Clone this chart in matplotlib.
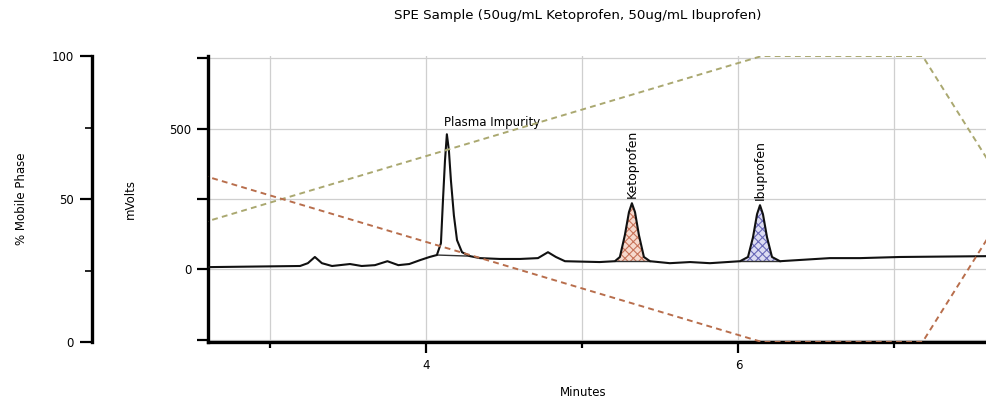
import matplotlib
matplotlib.use("Agg")
import matplotlib.pyplot as plt
import numpy as np

plt.rcParams['font.family'] = ['DejaVu Sans']
plt.rcParams['hatch.linewidth'] = 0.8

# ---- data ----
title = "SPE Sample (50ug/mL Ketoprofen, 50ug/mL Ibuprofen)"

trace_t = [2.60, 3.19, 3.24, 3.285, 3.33, 3.395, 3.51, 3.585, 3.67, 3.75, 3.82, 3.89,
           3.96, 4.02, 4.067, 4.093, 4.106, 4.119, 4.131, 4.144, 4.157, 4.176, 4.196,
           4.228, 4.279, 4.343, 4.47, 4.60, 4.715, 4.779, 4.83, 4.888, 5.11, 5.208,
           5.24, 5.272, 5.298, 5.317, 5.337, 5.362, 5.394, 5.433, 5.56, 5.69, 5.817,
           6.01, 6.061, 6.093, 6.119, 6.138, 6.157, 6.183, 6.215, 6.266, 6.586, 6.78,
           7.035, 7.60]
trace_mv = [8, 12, 22, 44, 22, 12, 19, 12, 15, 29, 15, 19,
            33, 44, 51, 93, 245, 387, 480, 423, 316, 192, 104,
            61, 47, 40, 37, 37, 40, 61, 44, 29, 26, 29,
            44, 122, 203, 235, 203, 122, 44, 29, 22, 26, 22,
            29, 44, 114, 196, 228, 196, 114, 44, 29, 40, 40,
            44, 47]

grad_t = [0.0, 6.15, 7.18, 8.33]
grad_b = [0, 100, 100, 0]          # % B (rising series)
grad_a = [100, 0, 0, 100]          # % A (falling series)

peak_names = ["Plasma Impurity", "Ketoprofen", "Ibuprofen"]
peak_t = [4.131, 5.317, 6.138]
peak_mv = [480, 235, 228]
peak_start = [4.067, 5.208, 6.01]
peak_end = [4.279, 5.433, 6.266]

# ---- figure ----
W, H = 987, 398
FS = 8.5
fig = plt.figure(figsize=(W / 100, H / 100), dpi=100)
x0, x1 = 208, 987
ytop, ybot = 56, 342
ax = fig.add_axes([x0 / W, (H - ybot) / H, (x1 - x0) / W, (ybot - ytop) / H])

t = np.array(trace_t)
mv = np.array(trace_mv)

ax.set_xlim(2.60, 7.593)
ax.set_ylim(-258, 758)

ylabs = ["", "0", "", "500", ""]
xlabs = ["", "4", "", "6", ""]
ax.set_yticks([-250, 0, 250, 500, 750])
ax.set_yticklabels(ylabs)
ax.set_xticks([3, 4, 5, 6, 7])
ax.set_xticklabels(xlabs)
ax.grid(True, color="#cfcfcf", lw=0.9)
ax.set_axisbelow(True)

for s in ["top", "right"]:
    ax.spines[s].set_visible(False)
for s in ["left", "bottom"]:
    ax.spines[s].set_linewidth(2.4)

ax.tick_params(axis="both", width=1.6, length=8, labelsize=FS, color="black", pad=4)
for tk, lab in zip(ax.yaxis.get_major_ticks(), ylabs):
    if lab == "":
        tk.tick1line.set_visible(False)
for tk, lab in zip(ax.xaxis.get_major_ticks(), xlabs):
    if lab == "":
        tk.tick1line.set_markersize(4)

# filled peaks
fills = [None, ("#f6d9cd", "#c8745a"), ("#dcdcf2", "#6a6ab8")]
for i, name in enumerate(peak_names):
    m = (t >= peak_start[i]) & (t <= peak_end[i])
    pt, pv = t[m], mv[m]
    base = np.interp(pt, [pt[0], pt[-1]], [pv[0], pv[-1]])
    if fills[i] is not None:
        fc, ec = fills[i]
        ax.fill_between(pt, base, pv, facecolor=fc, edgecolor=ec, hatch="xxxx",
                        lw=0, zorder=2)
    ax.plot([pt[0], pt[-1]], [pv[0], pv[-1]], color="#333333", lw=1.0, zorder=3)

ax.plot(t, mv, color="#111111", lw=1.5, zorder=4)

# peak labels
ax.text(4.11, 522, peak_names[0], fontsize=FS, ha="left", va="center", zorder=5)
ax.text(peak_t[1], peak_mv[1] + 18, peak_names[1], fontsize=FS + 0.5, rotation=90,
        ha="center", va="bottom", zorder=5)
ax.text(peak_t[2], peak_mv[2] + 18, peak_names[2], fontsize=FS + 0.5, rotation=90,
        ha="center", va="bottom", zorder=5)

# % mobile phase axis
tw = ax.twinx()
tw.set_ylim(0, 100)
tw.spines["right"].set_visible(False)
tw.spines["top"].set_visible(False)
tw.spines["bottom"].set_visible(False)
tw.spines["left"].set_position(("outward", (x0 - 92) * 0.72))
tw.spines["left"].set_linewidth(2.4)
tw.yaxis.set_ticks_position("left")
tw.set_yticks([0, 50, 100])
tw.set_yticks([25, 75], minor=True)
tw.tick_params(axis="y", which="major", width=1.6, length=9, labelsize=FS, pad=4)
tw.tick_params(axis="y", which="minor", width=1.2, length=5)

tw.plot(grad_t, grad_b, color="#aaa870", lw=1.4, ls=(0, (3, 2.2)), zorder=3)
tw.plot(grad_t, grad_a, color="#b86e4c", lw=1.4, ls=(0, (3, 2.2)), zorder=3)

# axis labels and title
fig.text(583 / W, 1 - 392 / H, "Minutes", fontsize=FS, ha="center", va="center")
fig.text(130 / W, 1 - 199 / H, "mVolts", fontsize=FS, ha="center", va="center",
         rotation=90)
fig.text(22 / W, 1 - 199 / H, "% Mobile Phase", fontsize=FS, ha="center",
         va="center", rotation=90)
fig.text(578 / W, 1 - 16 / H, title, fontsize=9.6, ha="center", va="center")

fig.savefig("out.png", dpi=100)
